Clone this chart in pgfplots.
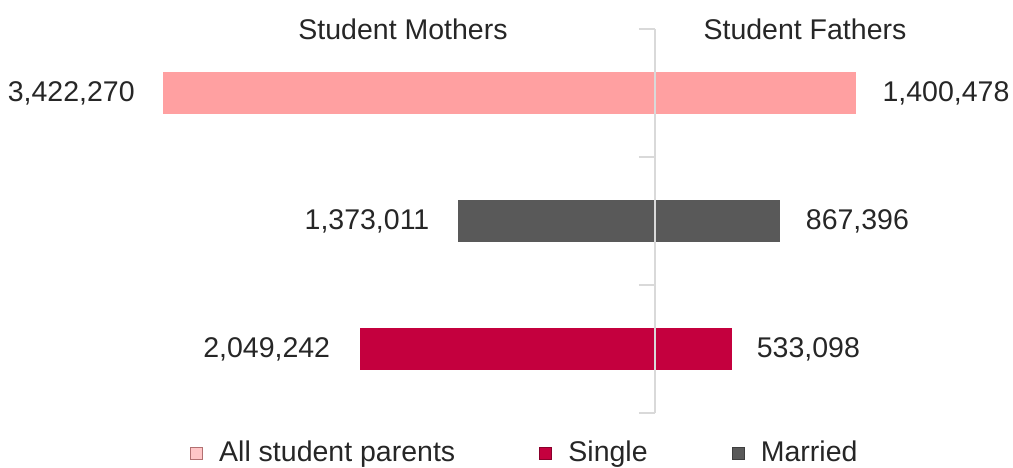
\documentclass[border=0pt]{standalone}
\usepackage{pgfplots}
\pgfplotsset{compat=1.18}
\usepackage{fontspec}
\setmainfont{Liberation Sans}
\definecolor{cpink}{RGB}{255,160,161}
\definecolor{ccrim}{RGB}{196,0,62}
\definecolor{cgray}{RGB}{89,89,89}
\definecolor{caxis}{RGB}{217,217,217}
\definecolor{ctext}{RGB}{38,38,38}
\begin{document}
\fontsize{28.5}{34}\selectfont
\begin{tikzpicture}
\path[use as bounding box] (0pt,0pt) rectangle (1013pt,467pt);
\begin{axis}[
  at={(0pt,54pt)}, anchor=south west,
  scale only axis, width=1013pt, height=384pt,
  xmin=-4554870, xmax=2489530,
  ymin=-0.5, ymax=2.5,
  clip=false,
  axis x line=none,
  axis y line=middle,
  axis line style={-, caxis, line width=1.5pt},
  ytick={-0.5,0.5,1.5,2.5},
  yticklabels={},
  major tick length=16pt,
  tick style={caxis, line width=1.5pt},
  xbar, bar width=42pt, bar shift=0pt,
  axis on top,
  point meta=explicit symbolic,
  nodes near coords,
  every node near coord/.append style={text=ctext, inner sep=0pt, font=\fontsize{28.5}{34}\selectfont},
  legend columns=3,
  legend style={at={(0.518,-0.106)}, anchor=center, draw=none, fill=none,
    text=ctext, font=\fontsize{28.5}{34}\selectfont,
    /tikz/every odd column/.append style={column sep=14pt},
    /tikz/every even column/.append style={column sep=82pt}},
  legend image code/.code={\draw[#1, line width=1.2pt] (0pt,-6pt) rectangle (12pt,6pt);},
]
% legend
\addlegendimage{fill=cpink!60, draw=cpink!70!black}
\addlegendentry{All student parents}
\addlegendimage{fill=ccrim, draw=ccrim!70!black}
\addlegendentry{Single}
\addlegendimage{fill=cgray, draw=cgray!70!black}
\addlegendentry{Married}
% mothers (left)
\addplot[fill=cpink, draw=none, forget plot,
  every node near coord/.append style={anchor=east, xshift=-28pt}]
  table[meta=label] {
x y label
-3422270 2 3,422,270
};
\addplot[fill=cgray, draw=none, forget plot,
  every node near coord/.append style={anchor=east, xshift=-28pt}]
  table[meta=label] {
x y label
-1373011 1 1,373,011
};
\addplot[fill=ccrim, draw=none, forget plot,
  every node near coord/.append style={anchor=east, xshift=-30pt}]
  table[meta=label] {
x y label
-2049242 0 2,049,242
};
% fathers (right)
\addplot[fill=cpink, draw=none, forget plot,
  every node near coord/.append style={anchor=west, xshift=26pt}]
  table[meta=label] {
x y label
1400478 2 1,400,478
};
\addplot[fill=cgray, draw=none, forget plot,
  every node near coord/.append style={anchor=west, xshift=26pt}]
  table[meta=label] {
x y label
867396 1 867,396
};
\addplot[fill=ccrim, draw=none, forget plot,
  every node near coord/.append style={anchor=west, xshift=25pt}]
  table[meta=label] {
x y label
533098 0 533,098
};
\node[text=ctext, anchor=center] at (axis cs:-1752400,2.5) {Student Mothers};
\node[text=ctext, anchor=center] at (axis cs:1043100,2.5) {Student Fathers};
\end{axis}
\end{tikzpicture}
\end{document}
